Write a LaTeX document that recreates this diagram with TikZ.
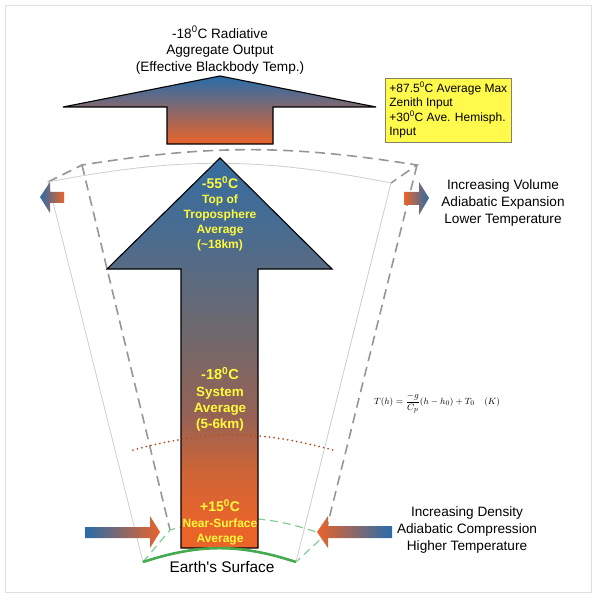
\documentclass[tikz,border=0pt]{standalone}
\usepackage{fontspec}
\setmainfont{Liberation Sans}

\definecolor{coolblue}{RGB}{40,108,170}
\definecolor{bluegray}{RGB}{72,108,145}
\definecolor{midgray}{RGB}{110,105,110}
\definecolor{dullbrown}{RGB}{150,98,85}
\definecolor{midbrown}{RGB}{205,100,55}
\definecolor{hotorange}{RGB}{234,100,42}
\definecolor{hotyellow}{RGB}{255,250,60}
\definecolor{boxyellow}{RGB}{255,250,75}
\definecolor{boxedge}{RGB}{135,130,100}
\definecolor{earthgreen}{RGB}{70,170,80}
\definecolor{dashgreen}{RGB}{130,205,150}
\definecolor{dotbrown}{RGB}{175,85,40}
\definecolor{edgegray}{RGB}{150,150,150}
\definecolor{facegray}{RGB}{205,205,205}

\pgfdeclareverticalshading{troposhade}{100bp}{color(0bp)=(hotorange); color(28bp)=(hotorange); color(35bp)=(midbrown); color(42bp)=(dullbrown); color(53bp)=(midgray); color(66bp)=(bluegray); color(82bp)=(coolblue); color(100bp)=(coolblue)}

\begin{document}
\begin{tikzpicture}[x=1pt,y=-1pt,font=\fontsize{13.6}{17}\selectfont,
 face/.style={facegray,line width=0.8pt},
 hidden/.style={edgegray,line width=1.6pt,dash pattern=on 10pt off 6pt},
 hiddengreen/.style={dashgreen,line width=1.2pt,dash pattern=on 8pt off 5pt},
 bigarrow/.style={draw=black,line width=1.1pt,line join=miter},
 hotlabel/.style={hotyellow,inner sep=0pt,align=center},
 sidenote/.style={align=center,inner sep=0pt}]
\useasboundingbox (0,0) rectangle (596,601);
\draw[gray!25,line width=0.8pt] (5,5) rectangle (591,592);

\coordinate (ftl) at (48,182); \coordinate (ftr) at (391,183);
\coordinate (fbl) at (143,562); \coordinate (fbr) at (296,562);
\coordinate (btl) at (82,165); \coordinate (btr) at (417,165);
\coordinate (bbl) at (170,530); \coordinate (bbr) at (325,535);
\draw[hidden] (ftl) -- (btl) to[bend left=9] (btr) -- (ftr);
\draw[hidden] (btl) -- (bbl);
\draw[hidden] (btr) -- (bbr);
\draw[hiddengreen] (fbl) -- (bbl) to[bend left=18] (bbr) -- (fbr);
\draw[face] (fbl) -- (ftl) to[bend left=11] (ftr) -- (fbr);

\shade[bigarrow,top color=coolblue,middle color=midgray,bottom color=hotorange]
 (220,76) -- (376,107) -- (273,107) -- (273,144) -- (167,144) -- (167,107) -- (63,107) -- cycle;
\shade[bigarrow,shading=troposhade]
 (220,158) -- (332,269) -- (258,269) -- (258,548) -- (181,548) -- (181,269) -- (107,269) -- cycle;
\draw[earthgreen,line width=2.6pt] (fbl) to[bend left=18] (fbr);
\draw[dotbrown,line width=2pt,line cap=round,dash pattern=on 0pt off 4.6pt] (133,450) to[bend left=15] (333,450);

\shade[left color=coolblue,right color=hotorange] (40,197) -- (50,182) -- (50,192) -- (64,192) -- (64,203) -- (50,203) -- (50,213) -- cycle;
\shade[left color=hotorange,right color=coolblue] (429,198) -- (419,182) -- (419,192) -- (404,192) -- (404,205) -- (419,205) -- (419,215) -- cycle;
\shade[left color=coolblue,right color=hotorange] (160,532) -- (150,516) -- (150,527) -- (85,527) -- (85,538) -- (150,538) -- (150,548) -- cycle;
\shade[left color=hotorange,right color=coolblue] (317,532) -- (328,516) -- (328,526) -- (392,526) -- (392,538) -- (328,538) -- (328,548) -- cycle;

\node[sidenote,font=\fontsize{13.6}{16.5}\selectfont] (output) at (220,50) {-18\textsuperscript{0}C Radiative\\Aggregate Output\\(Effective Blackbody Temp.)};
\node[draw=boxedge,fill=boxyellow,line width=0.8pt,anchor=north west,align=left,inner sep=4pt,font=\fontsize{12}{14.5}\selectfont] (zenith) at (385,78) {+87.5\textsuperscript{0}C Average Max\\Zenith Input\\+30\textsuperscript{0}C Ave. Hemisph.\\Input};
\node[hotlabel,font=\bfseries\fontsize{12}{15}\selectfont] (toplabel) at (220,214) {{\fontsize{14}{15}\selectfont -55\textsuperscript{0}C}\\Top of\\Troposphere\\Average\\(\textasciitilde18km)};
\node[hotlabel,font=\bfseries\fontsize{13.4}{16.3}\selectfont] (midlabel) at (220,399.5) {{\fontsize{14.5}{16.3}\selectfont -18\textsuperscript{0}C}\\System\\Average\\(5-6km)};
\node[hotlabel,font=\bfseries\fontsize{12}{15.5}\selectfont] (lowlabel) at (220,522.5) {{\fontsize{14}{15.5}\selectfont +15\textsuperscript{0}C}\\Near-Surface\\Average};
\node[sidenote] (expansion) at (503,203) {Increasing Volume\\Adiabatic Expansion\\Lower Temperature};
\node[sidenote] (compression) at (467,530) {Increasing Density\\Adiabatic Compression\\Higher Temperature};
\node[font=\fontsize{15.4}{18}\selectfont,inner sep=0pt] (surface) at (222,567) {Earth\textquotesingle s Surface};
\node[font=\fontsize{9.5}{12}\selectfont,inner sep=0pt] (lapse) at (437,403) {$\displaystyle T(h)=\frac{-g}{C_p}(h-h_0)+T_0\quad(K)$};
\end{tikzpicture}
\end{document}
